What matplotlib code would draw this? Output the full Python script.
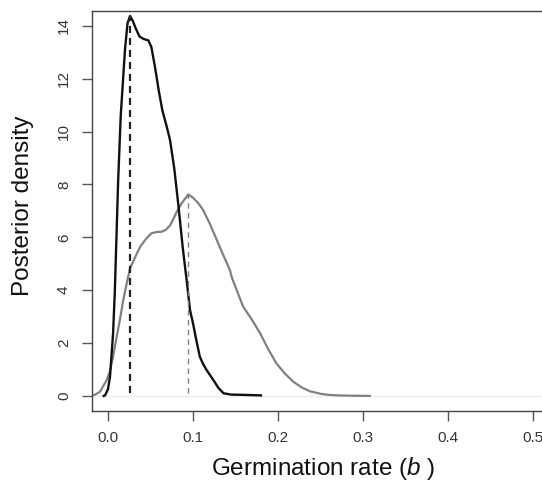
import matplotlib
matplotlib.use("Agg")
import matplotlib.pyplot as plt
import numpy as np

plt.rcParams['font.family'] = ['Liberation Sans', 'DejaVu Sans']
plt.rcParams['mathtext.fontset'] = 'custom'
plt.rcParams['mathtext.it'] = 'Liberation Sans:italic'
plt.rcParams['mathtext.rm'] = 'Liberation Sans'

# Black posterior (first group)
black_x = [-0.005, -0.0035, 0.0, 0.0024, 0.006, 0.008, 0.012, 0.015, 0.020, 0.023, 0.026,
           0.029, 0.032, 0.037, 0.042, 0.0475, 0.051, 0.055, 0.060, 0.064, 0.069, 0.073,
           0.078, 0.083, 0.088, 0.0925, 0.0965, 0.100, 0.104, 0.108, 0.112, 0.116, 0.124,
           0.130, 0.136, 0.145, 0.160, 0.170, 0.180]
black_y = [0.0, 0.02, 0.25, 0.73, 2.37, 3.9, 8.17, 10.6, 13.1, 14.1, 14.37,
           14.2, 13.95, 13.6, 13.5, 13.45, 13.2, 12.5, 11.5, 10.8, 10.2, 9.68,
           8.6, 7.16, 5.6, 4.39, 3.25, 2.75, 2.1, 1.49, 1.2, 0.98, 0.6,
           0.3, 0.1, 0.05, 0.04, 0.03, 0.02]

# Grey posterior (second group)
grey_x = [-0.025, -0.021, -0.015, -0.0094, -0.0015, 0.002, 0.006, 0.010, 0.014, 0.018,
          0.022, 0.026, 0.032, 0.038, 0.045, 0.051, 0.057, 0.063, 0.068, 0.073, 0.077,
          0.081, 0.087, 0.0945, 0.100, 0.106, 0.112, 0.120, 0.128, 0.136, 0.1435,
          0.1455, 0.152, 0.159, 0.169, 0.179, 0.188, 0.198, 0.208, 0.218, 0.228,
          0.238, 0.2415, 0.250, 0.260, 0.270, 0.285, 0.308]
grey_y = [0.0, 0.01, 0.05, 0.16, 0.6, 0.9, 1.49, 2.2, 2.87, 3.63,
          4.25, 4.83, 5.25, 5.65, 5.95, 6.15, 6.2, 6.21, 6.28, 6.45, 6.7,
          6.97, 7.3, 7.62, 7.5, 7.3, 7.03, 6.5, 5.9, 5.3, 4.76,
          4.5, 3.95, 3.38, 2.9, 2.37, 1.8, 1.24, 0.85, 0.54, 0.32,
          0.17, 0.15, 0.08, 0.04, 0.02, 0.01, 0.0]

# Posterior modes
black_mode = 0.026
grey_mode = 0.0945
black_peak = 14.37
grey_peak = 7.62

x_ticks = [0.0, 0.1, 0.2, 0.3, 0.4, 0.5]
x_ticklabels = ["0.0", "0.1", "0.2", "0.3", "0.4", "0.5"]
y_ticks = [0, 2, 4, 6, 8, 10, 12, 14]

W, H = 542, 487
fig = plt.figure(figsize=(W / 100, H / 100), dpi=100)
left = 92 / W
bottom = (H - 411) / H
top = 1 - 11 / H
xmin, xmax = -0.0188, 0.62
width = (xmax - xmin) * 850 / W
ax = fig.add_axes([left, bottom, width, top - bottom])

ax.axhline(0, color="#ececec", lw=1.0, zorder=1)
ax.plot(black_x, black_y, color="#111111", lw=1.7, zorder=3)
ax.plot(grey_x, grey_y, color="#808080", lw=1.6, zorder=2)
ax.plot([black_mode, black_mode], [0.1, black_peak], color="#222222", lw=1.6,
        dashes=(3.2, 2.2), zorder=4)
ax.plot([grey_mode, grey_mode], [0.1, grey_peak], color="#808080", lw=1.0,
        dashes=(4, 3), zorder=4)

ax.set_xlim(xmin, xmax)
ax.set_ylim(-0.57, 14.56)

ax.set_xticks(x_ticks)
ax.set_xticklabels(x_ticklabels)
ax.set_yticks(y_ticks)
ax.set_yticklabels([str(v) for v in y_ticks], rotation=90, va="center")

for s in ax.spines.values():
    s.set_color("#444444")
    s.set_linewidth(1.0)

ax.tick_params(axis="both", direction="out", length=7.2, width=1.0, color="#555555",
               labelsize=11, labelcolor="#333333", pad=7)
ax.tick_params(axis="y", pad=8)

fig.text(323 / W, 1 - 468 / H, r"Germination rate ($b$ )", ha="center", va="center",
         fontsize=17.5, color="#111111")
fig.text(23 / W, 1 - 206 / H, "Posterior density", ha="center", va="center",
         rotation=90, fontsize=17.5, color="#111111")

fig.savefig("out.png", dpi=100)
